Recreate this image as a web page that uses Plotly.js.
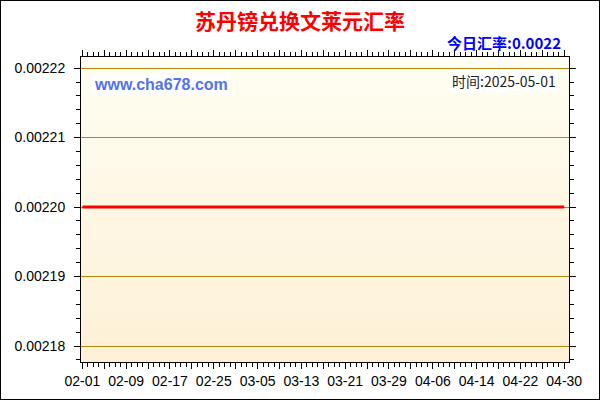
<!DOCTYPE html>
<html lang="zh">
<head>
    <meta charset="UTF-8">
    <title>苏丹镑兑换文莱元汇率</title>
    <script src="https://cdn.plot.ly/plotly-3.0.1.min.js"></script>
    <style>
        body { margin: 0; }
        #wrap { position: relative; width: 600px; height: 400px; }
        #wrap::after {
            content: ''; position: absolute; left: 0; top: 0; right: 0; bottom: 0;
            border: 1px solid #000; pointer-events: none;
        }
    </style>
</head>

<body>
<div id="wrap"><div id="plot"></div></div>

<script>

    // daily dates 2025-02-01 .. 2025-04-30
    const dates = []
    for (let d = new Date(Date.UTC(2025, 1, 1)); d <= new Date(Date.UTC(2025, 3, 30)); d.setUTCDate(d.getUTCDate() + 1)) {
        dates.push(d.toISOString().slice(0, 10))
    }

    const rates = [
        0.0022, 0.0022, 0.0022, 0.0022, 0.0022, 0.0022, 0.0022, 0.0022, 0.0022, 0.0022,
        0.0022, 0.0022, 0.0022, 0.0022, 0.0022, 0.0022, 0.0022, 0.0022, 0.0022, 0.0022,
        0.0022, 0.0022, 0.0022, 0.0022, 0.0022, 0.0022, 0.0022, 0.0022, 0.0022, 0.0022,
        0.0022, 0.0022, 0.0022, 0.0022, 0.0022, 0.0022, 0.0022, 0.0022, 0.0022, 0.0022,
        0.0022, 0.0022, 0.0022, 0.0022, 0.0022, 0.0022, 0.0022, 0.0022, 0.0022, 0.0022,
        0.0022, 0.0022, 0.0022, 0.0022, 0.0022, 0.0022, 0.0022, 0.0022, 0.0022, 0.0022,
        0.0022, 0.0022, 0.0022, 0.0022, 0.0022, 0.0022, 0.0022, 0.0022, 0.0022, 0.0022,
        0.0022, 0.0022, 0.0022, 0.0022, 0.0022, 0.0022, 0.0022, 0.0022, 0.0022, 0.0022,
        0.0022, 0.0022, 0.0022, 0.0022, 0.0022, 0.0022, 0.0022, 0.0022, 0.0022
    ]

    // major ticks every 4 days, label every other one
    const tickDates = [
        '2025-02-01', '2025-02-05', '2025-02-09', '2025-02-13', '2025-02-17', '2025-02-21',
        '2025-02-25', '2025-03-01', '2025-03-05', '2025-03-09', '2025-03-13', '2025-03-17',
        '2025-03-21', '2025-03-25', '2025-03-29', '2025-04-02', '2025-04-06', '2025-04-10',
        '2025-04-14', '2025-04-18', '2025-04-22', '2025-04-26', '2025-04-30'
    ]
    const tickLabels = [
        '02-01', '', '02-09', '', '02-17', '', '02-25', '', '03-05', '', '03-13', '',
        '03-21', '', '03-29', '', '04-06', '', '04-14', '', '04-22', '', '04-30'
    ]

    const titleText = '苏丹镑兑换文莱元汇率'
    const todayText = '今日汇率:0.0022'
    const siteText = 'www.cha678.com'
    const timeText = '时间:2025-05-01'

    const bgSvg = '<svg xmlns="http://www.w3.org/2000/svg" width="10" height="100" preserveAspectRatio="none">' +
        '<defs><linearGradient id="g" x1="0" y1="0" x2="0" y2="1">' +
        '<stop offset="0" stop-color="#fffef2"/><stop offset="1" stop-color="#fdf0d6"/>' +
        '</linearGradient></defs><rect width="10" height="100" fill="url(#g)"/></svg>'

    const rateLine = {
        x: dates,
        y: rates,
        type: 'scatter',
        mode: 'lines',
        line: { color: '#ff0000', width: 3 },
        hoverinfo: 'skip'
    }

    const layout = {
        width: 600,
        height: 400,
        margin: { l: 81, r: 31, t: 57, b: 38 },
        paper_bgcolor: '#ffffff',
        plot_bgcolor: '#fef7e4',
        showlegend: false,
        font: { family: 'Arial, "Liberation Sans", sans-serif', size: 14, color: '#000' },
        title: {
            text: titleText,
            font: { family: '"Noto Sans CJK SC", sans-serif', size: 21, color: '#ff0000', weight: 'bold' },
            x: 0.5, xanchor: 'center',
            y: 0.945, yanchor: 'middle', yref: 'container'
        },
        xaxis: {
            type: 'date',
            range: ['2025-01-31 18:00', '2025-04-30 21:00'],
            tickmode: 'array',
            tickvals: tickDates,
            ticktext: tickLabels,
            ticks: 'outside',
            ticklen: 6,
            tickcolor: '#000',
            showline: true,
            linecolor: '#000',
            mirror: 'ticks',
            showgrid: false,
            zeroline: false,
            tickfont: { size: 14 },
            minor: {
                tickmode: 'linear',
                tick0: '2025-02-01',
                dtick: 86400000,
                ticks: 'outside',
                ticklen: 4,
                tickcolor: '#000',
                showgrid: false
            }
        },
        yaxis: {
            range: [0.0021777, 0.0022216],
            tick0: 0.00218,
            dtick: 0.00001,
            tickformat: '.5f',
            ticks: 'outside',
            ticklen: 6,
            tickcolor: '#000',
            ticklabelstandoff: 6,
            showline: true,
            linecolor: '#000',
            mirror: 'ticks',
            showgrid: true,
            gridcolor: '#b8860b',
            gridwidth: 1,
            zeroline: false,
            tickfont: { size: 14 },
            minor: {
                tick0: 0.00218,
                dtick: 0.000002,
                ticks: 'outside',
                ticklen: 4,
                tickcolor: '#000',
                showgrid: false
            }
        },
        images: [{
            source: 'data:image/svg+xml;charset=utf-8,' + encodeURIComponent(bgSvg),
            xref: 'paper', yref: 'paper',
            x: 0, y: 1, sizex: 1, sizey: 1,
            xanchor: 'left', yanchor: 'top',
            sizing: 'stretch',
            layer: 'below'
        }],
        annotations: [
            {
                text: todayText,
                xref: 'paper', yref: 'paper',
                x: 0.988, y: 1.046, xanchor: 'right', yanchor: 'middle',
                showarrow: false,
                font: { family: '"Noto Sans CJK SC", Arial, sans-serif', size: 15, color: '#0000ff', weight: 'bold' }
            },
            {
                text: siteText,
                xref: 'paper', yref: 'paper',
                x: 0.022, y: 0.911, xanchor: 'left', yanchor: 'middle',
                showarrow: false,
                bgcolor: '#ffffff',
                font: { family: 'Arial, "Liberation Sans", sans-serif', size: 16, color: '#5272f2', weight: 'bold' }
            },
            {
                text: timeText,
                xref: 'paper', yref: 'paper',
                x: 0.977, y: 0.921, xanchor: 'right', yanchor: 'middle',
                showarrow: false,
                bgcolor: '#ffffff',
                font: { family: '"Noto Sans CJK SC", sans-serif', size: 14, color: '#222' }
            }
        ]
    }

    Plotly.newPlot('plot', [rateLine], layout, { displayModeBar: false, staticPlot: true })

</script>

</body>
</html>
